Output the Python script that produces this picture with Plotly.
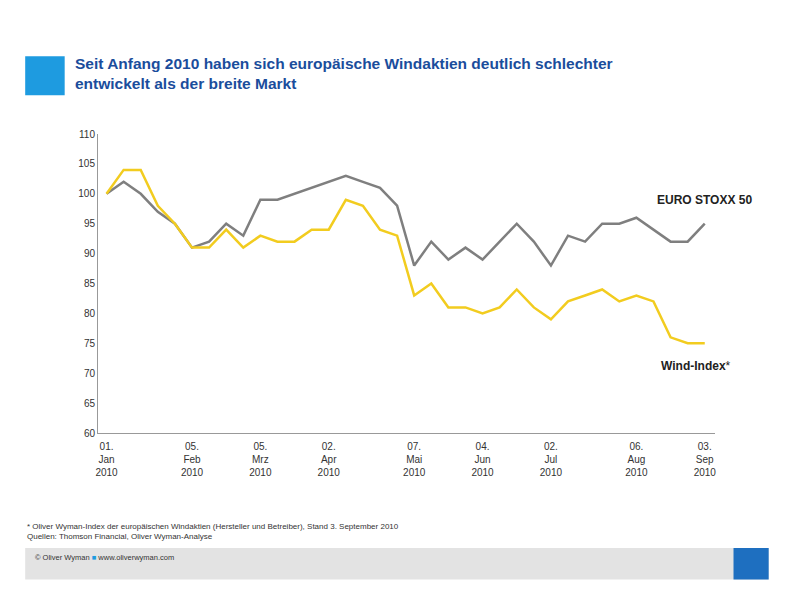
import plotly.graph_objects as go

weeks = list(range(36))
euro_stoxx = [100, 102, 100, 97, 95, 91, 92, 95, 93, 99, 99, 100, 101, 102, 103, 102, 101, 98,
              88, 92, 89, 91, 89, 92, 95, 92, 88, 93, 92, 95, 95, 96, 94, 92, 92, 95]
wind_index = [100, 104, 104, 98, 95, 91, 91, 94, 91, 93, 92, 92, 94, 94, 99, 98, 94, 93,
              83, 85, 81, 81, 80, 81, 84, 81, 79, 82, 83, 84, 82, 83, 82, 76, 75, 75]
tick_weeks = [0, 5, 9, 13, 18, 22, 26, 31, 35]
tick_labels = ["01.<br>Jan<br>2010", "05.<br>Feb<br>2010", "05.<br>Mrz<br>2010",
               "02.<br>Apr<br>2010", "07.<br>Mai<br>2010", "04.<br>Jun<br>2010",
               "02.<br>Jul<br>2010", "06.<br>Aug<br>2010", "03.<br>Sep<br>2010"]

fig = go.Figure()
fig.add_trace(go.Scatter(x=weeks, y=euro_stoxx, mode="lines",
                         line=dict(color="#7f7f7f", width=2.5)))
fig.add_trace(go.Scatter(x=weeks, y=wind_index, mode="lines",
                         line=dict(color="#f2cc1f", width=2.5)))

fig.update_xaxes(range=[-0.5, 35.6], tickvals=tick_weeks, ticktext=tick_labels,
                 showgrid=False, showline=True, linecolor="#999", ticks="outside",
                 ticklen=4, tickcolor="white",
                 tickfont=dict(size=10, color="#333"), zeroline=False)
fig.update_yaxes(range=[60, 110], dtick=5, showgrid=False, showline=True,
                 linecolor="#999", ticks="", tickfont=dict(size=10, color="#333"),
                 zeroline=False)

fig.add_annotation(x=35, y=99, text="<b>EURO STOXX 50</b>", showarrow=False,
                   xanchor="center", font=dict(size=12, color="#222"))
fig.add_annotation(x=34.5, y=71.2, text="<b>Wind-Index</b>*", showarrow=False,
                   xanchor="center", font=dict(size=12, color="#222"))

fig.add_shape(type="rect", xref="paper", yref="paper", x0=-0.118, x1=-0.054,
              y0=1.13, y1=1.26, fillcolor="#1e9be0", line_width=0)
fig.add_annotation(xref="paper", yref="paper", x=-0.041, y=1.27, xanchor="left", yanchor="top",
                   align="left", showarrow=False,
                   text="<b>Seit Anfang 2010 haben sich europäische Windaktien deutlich schlechter<br>"
                        "entwickelt als der breite Markt</b>",
                   font=dict(size=15.5, color="#1a4d9c"))
fig.add_annotation(xref="paper", yref="paper", x=-0.118, y=-0.29, xanchor="left", yanchor="top",
                   align="left", showarrow=False,
                   text="* Oliver Wyman-Index der europäischen Windaktien (Hersteller und Betreiber), Stand 3. September 2010<br>"
                        "Quellen: Thomson Financial, Oliver Wyman-Analyse",
                   font=dict(size=8, color="#333"))
fig.add_shape(type="rect", xref="paper", yref="paper", x0=-0.118, x1=1.087,
              y0=-0.49, y1=-0.385, fillcolor="#e3e3e3", line_width=0)
fig.add_shape(type="rect", xref="paper", yref="paper", x0=1.03, x1=1.087,
              y0=-0.49, y1=-0.385, fillcolor="#1e6fc0", line_width=0)
fig.add_annotation(xref="paper", yref="paper", x=-0.105, y=-0.437, xanchor="left",
                   showarrow=False,
                   text="© Oliver Wyman <span style='color:#1e9be0'>■</span> www.oliverwyman.com",
                   font=dict(size=7.5, color="#333"))

fig.update_layout(width=792, height=600, showlegend=False, plot_bgcolor="white",
                  paper_bgcolor="white", margin=dict(l=90, r=85, t=126, b=175),
                  font=dict(family="Liberation Sans, Arial, sans-serif"))
fig.write_html("out.html")
